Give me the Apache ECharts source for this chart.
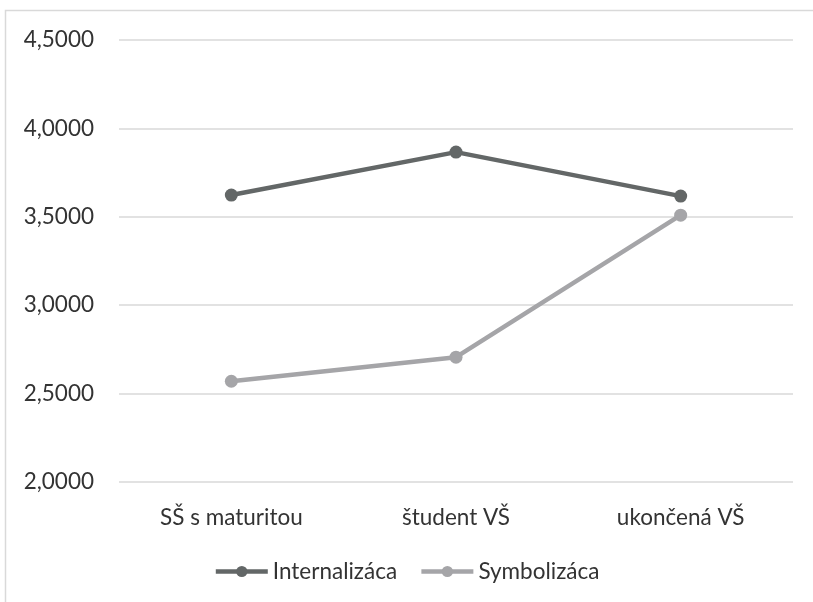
<!DOCTYPE html>
<html><head><meta charset="utf-8">
<script src="https://cdn.jsdelivr.net/npm/echarts@6/dist/echarts.min.js"></script>
<style>html,body{margin:0;padding:0;background:#fff}#c{width:813px;height:602px}</style>
</head><body><div id="c"></div>
<script>
const categories = ["SŠ s maturitou", "študent VŠ", "ukončená VŠ"];
const internalizaca = [3.623, 3.866, 3.617];
const symbolizaca = [2.570, 2.706, 3.509];
const yTicks = [2.0, 2.5, 3.0, 3.5, 4.0, 4.5];
const seriesNames = ["Internalizáca", "Symbolizáca"];

const chart = echarts.init(document.getElementById('c'));
const font = 'Lato, "Open Sans", sans-serif';
chart.setOption({
  animation: false,
  graphic: [{type:'rect', shape:{x:5.5,y:10.5,width:820,height:620}, style:{fill:'none',stroke:'#d9d9d9',lineWidth:1.5}, silent:true}],
  grid: {left:119, right:20, top:40, bottom:120},
  xAxis: {
    type:'category', data:categories, boundaryGap:true,
    axisLine:{show:false}, axisTick:{show:false},
    axisLabel:{color:'#333333', fontSize:22.5, fontFamily:font, margin:24}
  },
  yAxis: {
    type:'value', min:yTicks[0], max:yTicks[yTicks.length-1], interval:0.5,
    axisLine:{show:false}, axisTick:{show:false},
    splitLine:{lineStyle:{color:'#d9d9d9', width:1.5}},
    axisLabel:{color:'#333333', fontSize:22.5, fontFamily:font, margin:25,
      formatter: v => v.toFixed(4).replace('.', ',')}
  },
  legend: {
    bottom:14, left:'center', itemWidth:52, itemHeight:14, itemGap:22,
    lineStyle:{width:4.5},
    textStyle:{color:'#333333', fontSize:22.5, fontFamily:font},
    data: seriesNames
  },
  series: [
    {name:seriesNames[0], type:'line', data:internalizaca, symbol:'circle', symbolSize:13,
      lineStyle:{color:'#636767', width:4.5}, itemStyle:{color:'#636767'}},
    {name:seriesNames[1], type:'line', data:symbolizaca, symbol:'circle', symbolSize:13,
      lineStyle:{color:'#a5a5a8', width:4.5}, itemStyle:{color:'#a5a5a8'}}
  ]
});
</script></body></html>
